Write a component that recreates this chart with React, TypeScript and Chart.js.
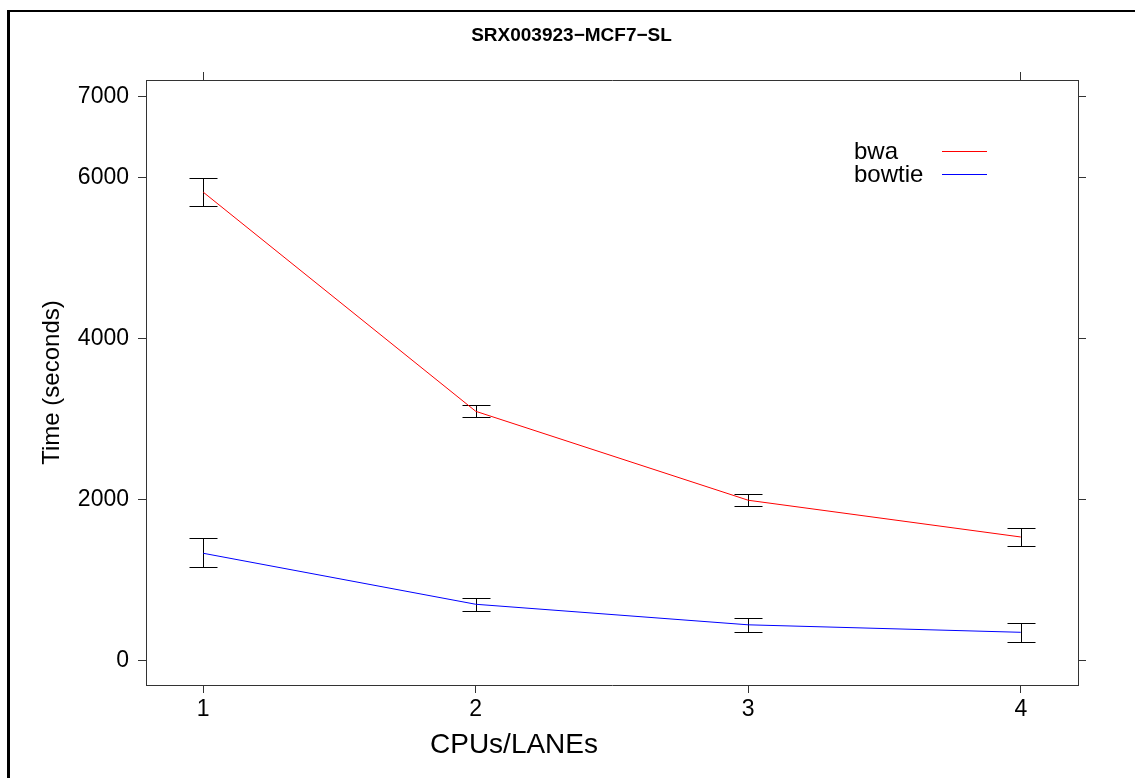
import React, { useEffect, useRef } from "react";
import { Chart, registerables } from "chart.js";

Chart.register(...registerables);

const TITLE = "SRX003923\u2212MCF7\u2212SL";
const X_LABEL = "CPUs/LANEs";
const Y_LABEL = "Time (seconds)";

const CPUS = [1, 2, 3, 4];
const X_TICKS = [1, 2, 3, 4];
const X_TOP_TICKS = [1, 4];
const Y_TICKS = [0, 2000, 4000, 6000, 7000];

const SERIES_NAMES = ["bwa", "bowtie"];
const SERIES_COLORS = ["#ff0000", "#0000ff"];

const BWA_MEAN = [5815, 3095, 1991, 1535];
const BWA_LOW = [5640, 3025, 1916, 1424];
const BWA_HIGH = [5995, 3177, 2065, 1651];

const BOWTIE_MEAN = [1333, 700, 445, 352];
const BOWTIE_LOW = [1159, 617, 358, 236];
const BOWTIE_HIGH = [1519, 774, 534, 464];

const X_MIN = 0.79;
const X_MAX = 4.21;
const Y_MIN = -302;
const Y_MAX = 7207;

const FONT = "'Liberation Sans', Arial, Helvetica, sans-serif";
const AXIS_COLOR = "#333333";

const MEANS = [BWA_MEAN, BOWTIE_MEAN];
const LOWS = [BWA_LOW, BOWTIE_LOW];
const HIGHS = [BWA_HIGH, BOWTIE_HIGH];

const errorBarsPlugin = {
  id: "errorBars",
  beforeDatasetsDraw(chart: any) {
    const { ctx, scales } = chart;
    const x = scales.x;
    const y = scales.y;
    const cap = 14;
    ctx.save();
    ctx.strokeStyle = "#000000";
    ctx.lineWidth = 1;
    LOWS.forEach((lows, s) => {
      lows.forEach((lo, i) => {
        const hi = HIGHS[s][i];
        const px = Math.round(x.getPixelForValue(CPUS[i])) + 0.5;
        const yl = Math.round(y.getPixelForValue(lo)) + 0.5;
        const yh = Math.round(y.getPixelForValue(hi)) + 0.5;
        ctx.beginPath();
        ctx.moveTo(px, yl);
        ctx.lineTo(px, yh);
        ctx.moveTo(px - cap, yl);
        ctx.lineTo(px + cap, yl);
        ctx.moveTo(px - cap, yh);
        ctx.lineTo(px + cap, yh);
        ctx.stroke();
      });
    });
    ctx.restore();
  },
};

const legendPlugin = {
  id: "customLegend",
  afterDraw(chart: any) {
    const { ctx, chartArea } = chart;
    const textX = chartArea.right - 224;
    const lineX0 = chartArea.right - 136;
    const lineX1 = chartArea.right - 91;
    const baseY = chartArea.top + 79;
    const step = 23;
    ctx.save();
    ctx.font = `24px ${FONT}`;
    ctx.textAlign = "left";
    ctx.textBaseline = "alphabetic";
    SERIES_NAMES.forEach((name, i) => {
      const by = baseY + i * step;
      ctx.fillStyle = "#000000";
      ctx.fillText(name, textX, by);
      ctx.strokeStyle = SERIES_COLORS[i];
      ctx.lineWidth = 1;
      const ly = Math.round(by - 8) + 0.5;
      ctx.beginPath();
      ctx.moveTo(lineX0, ly);
      ctx.lineTo(lineX1, ly);
      ctx.stroke();
    });
    // x-axis label
    ctx.font = `28px ${FONT}`;
    ctx.textAlign = "center";
    ctx.textBaseline = "middle";
    ctx.fillStyle = "#000000";
    ctx.fillText(X_LABEL, chartArea.left + 368, chartArea.bottom + 60);
    ctx.restore();
  },
};

export default function App() {
  const canvasRef = useRef<HTMLCanvasElement | null>(null);

  useEffect(() => {
    const canvas = canvasRef.current;
    if (!canvas) return;
    const setTicks = (vals: number[]) => (scale: any) => {
      scale.ticks = vals.map((v) => ({ value: v }));
    };
    const tickFont = { family: FONT, size: 23 };
    const grid = {
      drawOnChartArea: false,
      drawTicks: true,
      tickLength: 8,
      color: AXIS_COLOR,
      tickColor: AXIS_COLOR,
      lineWidth: 1,
    };
    const border = { display: true, color: AXIS_COLOR, width: 1 };

    const chart = new Chart(canvas, {
      type: "line",
      data: {
        datasets: MEANS.map((means, s) => ({
          label: SERIES_NAMES[s],
          data: means.map((v, i) => ({ x: CPUS[i], y: v })),
          borderColor: SERIES_COLORS[s],
          backgroundColor: SERIES_COLORS[s],
          borderWidth: 1,
          pointRadius: 0,
          tension: 0,
          fill: false,
          xAxisID: "x",
          yAxisID: "y",
        })),
      },
      plugins: [errorBarsPlugin, legendPlugin],
      options: {
        animation: false,
        responsive: false,
        devicePixelRatio: 1,
        layout: { padding: { left: 8, right: 0, top: 0, bottom: 0 } },
        plugins: {
          legend: { display: false },
          tooltip: { enabled: false },
          title: {
            display: true,
            text: TITLE,
            color: "#000000",
            font: { family: FONT, size: 19, weight: "bold", lineHeight: 1.2 },
            padding: { top: 24, bottom: 0 },
          },
        },
        scales: {
          x: {
            type: "linear",
            position: "bottom",
            min: X_MIN,
            max: X_MAX,
            afterBuildTicks: setTicks(X_TICKS),
            afterFit: (s: any) => {
              s.height = 93;
            },
            grid,
            border,
            ticks: {
              color: "#000000",
              font: tickFont,
              padding: 3,
              maxRotation: 0,
              autoSkip: false,
              callback: (v: any) => String(v),
            },
            title: { display: false },
          },
          xTop: {
            type: "linear",
            position: "top",
            min: X_MIN,
            max: X_MAX,
            afterBuildTicks: setTicks(X_TOP_TICKS),
            afterFit: (s: any) => {
              s.height = 80 - 46.8;
            },
            grid,
            border,
            ticks: { display: false },
          },
          y: {
            type: "linear",
            position: "left",
            min: Y_MIN,
            max: Y_MAX,
            afterBuildTicks: setTicks(Y_TICKS),
            afterFit: (s: any) => {
              s.width = 138;
            },
            grid,
            border,
            ticks: {
              color: "#000000",
              font: tickFont,
              padding: 9,
              autoSkip: false,
              callback: (v: any) => String(v),
            },
            title: {
              display: true,
              text: Y_LABEL,
              color: "#000000",
              font: { family: FONT, size: 24, lineHeight: 1.2 },
              padding: { top: 30, bottom: 0 },
            },
          },
          yRight: {
            type: "linear",
            position: "right",
            min: Y_MIN,
            max: Y_MAX,
            afterBuildTicks: setTicks(Y_TICKS),
            afterFit: (s: any) => {
              s.width = 1135 - 1078;
            },
            grid,
            border,
            ticks: { display: false },
          },
        },
      },
    } as any);

    return () => {
      chart.destroy();
    };
  }, []);

  return (
    <div
      style={{
        position: "fixed",
        left: 0,
        top: 0,
        width: 1135,
        height: 778,
        overflow: "hidden",
        background: "#ffffff",
      }}
    >
      <canvas
        ref={canvasRef}
        width={1135}
        height={778}
        style={{ position: "absolute", left: 0, top: 0, width: 1135, height: 778 }}
      />
      <div
        style={{
          position: "absolute",
          left: 7,
          top: 10,
          width: 1400,
          height: 1000,
          borderLeft: "3px solid #000000",
          borderTop: "2px solid #000000",
          boxSizing: "border-box",
          pointerEvents: "none",
        }}
      />
    </div>
  );
}
